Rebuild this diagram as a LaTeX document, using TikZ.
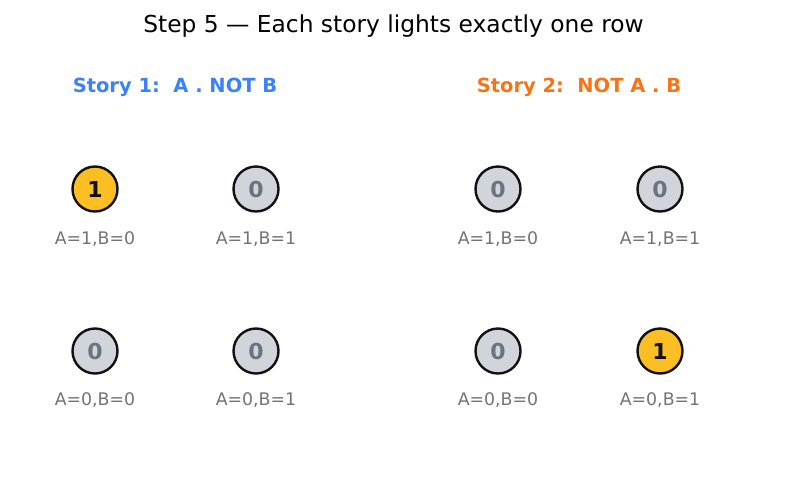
\documentclass[tikz,border=0pt]{standalone}
\usepackage{fontspec}
\setmainfont{DejaVu Sans}
\definecolor{storyblue}{HTML}{3B82F6}
\definecolor{storyorange}{HTML}{F97316}
\definecolor{lampon}{HTML}{FBBF24}
\definecolor{lampoff}{HTML}{D1D5DB}
\definecolor{zerogray}{HTML}{6B7280}
\definecolor{labelgray}{HTML}{737373}
\definecolor{rim}{HTML}{111111}
\begin{document}
\begin{tikzpicture}[x=0.75pt,y=-0.75pt,
    lamp/.style={circle,draw=rim,line width=1.8pt,minimum size=33.75pt,inner sep=0pt,font=\fontsize{16.5}{19}\selectfont\bfseries},
    lit/.style={lamp,fill=lampon,text=rim},
    dark/.style={lamp,fill=lampoff,text=zerogray},
    rowlabel/.style={text=labelgray,font=\fontsize{13}{15}\selectfont},
    storytitle/.style={font=\fontsize{14.6}{17}\selectfont\bfseries}]
\useasboundingbox (0,0) rectangle (787,486);
\node (title) at (393.5,26) {\fontsize{17.5}{21}\selectfont Step 5 --- Each story lights exactly one row};
\node[storytitle,text=storyblue] (s1) at (175,87) {Story 1:\ \ A . NOT B};
\node[storytitle,text=storyorange] (s2) at (579,87) {Story 2:\ \ NOT A . B};
% story 1
\node[lit]  (s1a) at (95,189)  {1};
\node[dark] (s1b) at (256,189) {0};
\node[dark] (s1c) at (95,351)  {0};
\node[dark] (s1d) at (256,351) {0};
% story 2
\node[dark] (s2a) at (498,189) {0};
\node[dark] (s2b) at (660,189) {0};
\node[dark] (s2c) at (498,351) {0};
\node[lit]  (s2d) at (660,351) {1};
\foreach \s in {s1,s2}{
  \node[rowlabel] (\s la) at ([yshift=-37.5pt]\s a) {A=1,B=0};
  \node[rowlabel] (\s lb) at ([yshift=-37.5pt]\s b) {A=1,B=1};
  \node[rowlabel] (\s lc) at ([yshift=-36.75pt]\s c) {A=0,B=0};
  \node[rowlabel] (\s ld) at ([yshift=-36.75pt]\s d) {A=0,B=1};
}
\end{tikzpicture}
\end{document}
